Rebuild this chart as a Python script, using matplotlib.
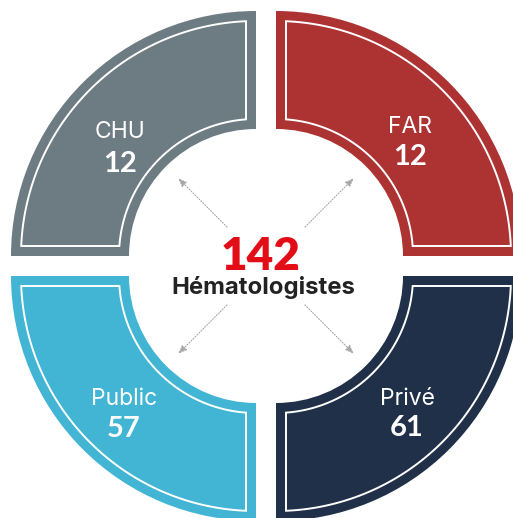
import numpy as np
import matplotlib
matplotlib.use("Agg")
import matplotlib.pyplot as plt
from matplotlib.patches import Wedge, Polygon

# Data
categories = ["CHU", "FAR", "Public", "Privé"]
values = [12, 12, 57, 61]
total_label = "Hématologistes"
colors = ["#6d7b83", "#ad3333", "#41b5d3", "#203048"]

W, H = 513, 518
fig = plt.figure(figsize=(W / 100, H / 100), dpi=100)
ax = fig.add_axes([0, 0, 1, 1])
ax.set_xlim(0, W)
ax.set_ylim(0, H)
ax.set_aspect("equal")
ax.axis("off")

def py(y):
    return H - y

cx, cy = 266, 266          # overall centre (pixel coords)
gap = 10                   # half gap between quadrants
r_out, r_in = 245, 127
inset = 10

signs = [(-1, 1), (1, 1), (-1, -1), (1, -1)]
label_pos = [(120, 138, 172), (410, 133, 165), (124, 405, 437), (407, 405, 436)]

def outline(d, ri, ro, n=80):
    a1 = np.arccos(np.clip(d / ro, -1, 1))
    a0 = np.arcsin(np.clip(d / ro, -1, 1))
    b1 = np.arccos(np.clip(d / ri, -1, 1))
    b0 = np.arcsin(np.clip(d / ri, -1, 1))
    to = np.linspace(a1, a0, n)
    ti = np.linspace(b0, b1, n)
    pts = [(d, np.sqrt(ri**2 - d**2)), (d, np.sqrt(ro**2 - d**2))]
    pts += list(zip(ro * np.cos(to), ro * np.sin(to)))
    pts += [(np.sqrt(ri**2 - d**2), d)]
    pts += list(zip(ri * np.cos(ti), ri * np.sin(ti)))
    return np.array(pts)

for cat, val, col, (sx, sy), (lx, lb, nb) in zip(categories, values, colors, signs, label_pos):
    qx = cx + sx * gap
    qy = py(cy) + sy * gap
    if sx > 0 and sy > 0:
        t1, t2 = 0, 90
    elif sx < 0 and sy > 0:
        t1, t2 = 90, 180
    elif sx < 0 and sy < 0:
        t1, t2 = 180, 270
    else:
        t1, t2 = 270, 360
    ax.add_patch(Wedge((qx, qy), r_out, t1, t2, width=r_out - r_in, facecolor=col, edgecolor="none"))
    pts = outline(inset, r_in + inset, r_out - inset)
    pts = np.column_stack([qx + sx * pts[:, 0], qy + sy * pts[:, 1]])
    ax.add_patch(Polygon(pts, closed=True, facecolor="none", edgecolor="white", lw=1.4))
    ax.text(lx, py(lb), cat, color="white", fontsize=16.5, family="Inter",
            ha="center", va="baseline")
    ax.text(lx, py(nb), str(val), color="white", fontsize=21, family="Lato",
            weight="bold", ha="center", va="baseline")

for sx, sy in signs:
    u = np.array([sx, sy]) / np.sqrt(2)
    start = (cx + u[0] * 55, py(cy) + u[1] * 55)
    end = (cx + u[0] * 124, py(cy) + u[1] * 124)
    ax.annotate("", xy=end, xytext=start,
                arrowprops=dict(arrowstyle="-|>,head_length=0.5,head_width=0.2",
                                color="#a8a8a8", lw=0.8, linestyle=(0, (1, 1.5)),
                                shrinkA=0, shrinkB=0))

ax.text(261, py(270), str(sum(values)), color="#e30d18", fontsize=33, family="Lato",
        weight="heavy", ha="center", va="baseline")
ax.text(263, py(294), total_label, color="#222222", fontsize=17.2, family="Inter",
        weight="bold", ha="center", va="baseline")

fig.savefig("out.png", dpi=100, facecolor="white")
